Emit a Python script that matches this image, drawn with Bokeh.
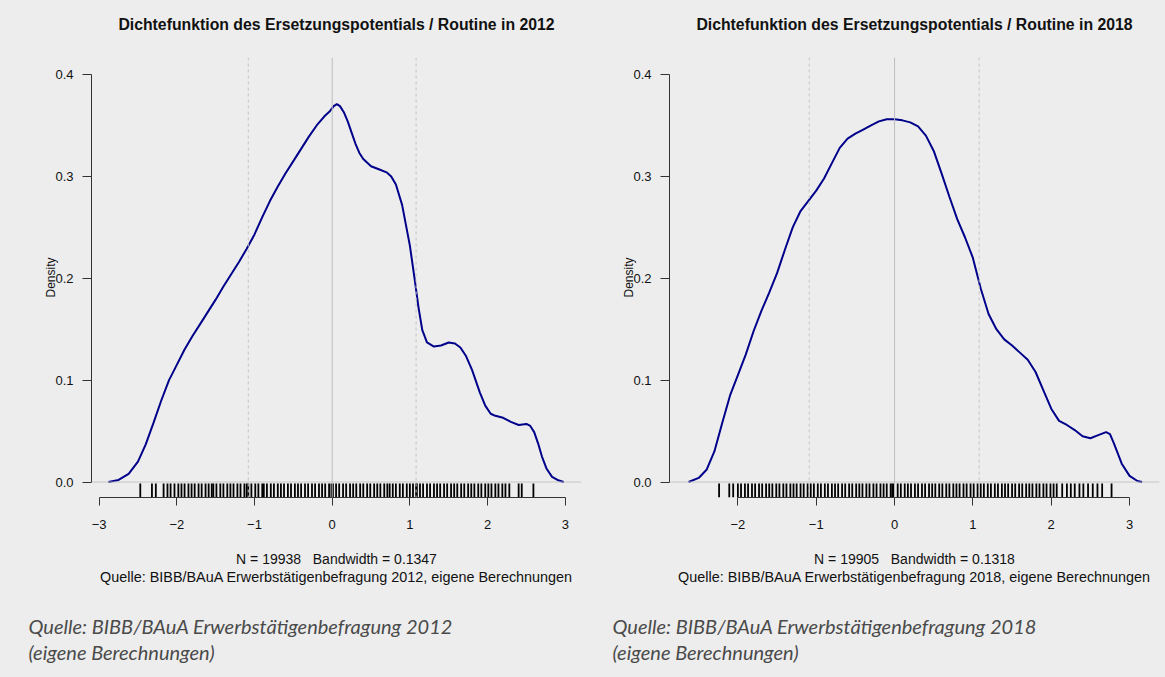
from bokeh.plotting import figure
from bokeh.models import Span, Title, FixedTicker, Range1d
from bokeh.layouts import row
from bokeh.embed import file_html
from bokeh.resources import INLINE

# ---------------- data ----------------
titles = ["Dichtefunktion des Ersetzungspotentials / Routine in 2012",
          "Dichtefunktion des Ersetzungspotentials / Routine in 2018"]
subs_n = ["N = 19938 \u00a0 Bandwidth = 0.1347", "N = 19905 \u00a0 Bandwidth = 0.1318"]
subs_src = ["Quelle: BIBB/BAuA Erwerbstätigenbefragung 2012, eigene Berechnungen",
            "Quelle: BIBB/BAuA Erwerbstätigenbefragung 2018, eigene Berechnungen"]
notes1 = ["Quelle: BIBB/BAuA Erwerbstätigenbefragung 2012",
          "Quelle: BIBB/BAuA Erwerbstätigenbefragung 2018"]
notes2 = ["(eigene Berechnungen)", "(eigene Berechnungen)"]
ylabel = "Density"

dens2012_x = [-2.88, -2.75, -2.62, -2.5, -2.4, -2.3, -2.2, -2.1, -2.0, -1.9, -1.8, -1.7,
              -1.6, -1.5, -1.4, -1.3, -1.2, -1.1, -1.0, -0.9, -0.8, -0.7, -0.6, -0.5,
              -0.4, -0.3, -0.2, -0.1, -0.03, 0.02, 0.06, 0.1, 0.15, 0.2, 0.25, 0.3, 0.35,
              0.4, 0.5, 0.6, 0.7, 0.76, 0.82, 0.9, 1.0, 1.06, 1.11, 1.16, 1.22, 1.31, 1.4,
              1.5, 1.58, 1.65, 1.72, 1.8, 1.9, 1.97, 2.04, 2.1, 2.2, 2.3, 2.4, 2.5, 2.55,
              2.6, 2.65, 2.7, 2.76, 2.83, 2.9, 2.98]
dens2012_y = [0.0, 0.002, 0.008, 0.02, 0.037, 0.058, 0.08, 0.1, 0.115, 0.13, 0.143, 0.155,
              0.167, 0.179, 0.192, 0.204, 0.216, 0.229, 0.243, 0.26, 0.276, 0.29, 0.303, 0.315,
              0.327, 0.339, 0.35, 0.359, 0.364, 0.369, 0.371, 0.369, 0.363, 0.354, 0.343, 0.332, 0.323,
              0.317, 0.31, 0.307, 0.304, 0.3, 0.292, 0.272, 0.232, 0.2, 0.172, 0.149, 0.137, 0.133, 0.134,
              0.137, 0.136, 0.132, 0.124, 0.11, 0.088, 0.075, 0.067, 0.065, 0.063, 0.059, 0.056, 0.057, 0.055,
              0.049, 0.038, 0.025, 0.013, 0.005, 0.002, 0.0]

dens2018_x = [-2.63, -2.5, -2.4, -2.3, -2.2, -2.1, -2.0, -1.9, -1.8, -1.7, -1.6, -1.5,
              -1.4, -1.3, -1.2, -1.1, -1.0, -0.9, -0.8, -0.7, -0.6, -0.5, -0.4, -0.3,
              -0.2, -0.1, 0.0, 0.1, 0.2, 0.3, 0.4, 0.5, 0.6, 0.7, 0.8, 0.9, 1.0, 1.1,
              1.2, 1.3, 1.4, 1.5, 1.6, 1.7, 1.8, 1.9, 2.0, 2.1, 2.2, 2.3, 2.4, 2.5,
              2.6, 2.7, 2.75, 2.8, 2.9, 3.0, 3.1, 3.16]
dens2018_y = [0.0, 0.004, 0.012, 0.03, 0.058, 0.085, 0.105, 0.125, 0.148, 0.168, 0.186, 0.205,
              0.228, 0.25, 0.266, 0.276, 0.286, 0.298, 0.313, 0.328, 0.337, 0.342, 0.346, 0.35,
              0.354, 0.356, 0.356, 0.355, 0.353, 0.349, 0.34, 0.325, 0.303, 0.28, 0.258, 0.24, 0.22, 0.19,
              0.165, 0.15, 0.14, 0.134, 0.127, 0.12, 0.108, 0.09, 0.072, 0.06, 0.056, 0.051, 0.045, 0.043,
              0.046, 0.049, 0.047, 0.038, 0.018, 0.006, 0.001, 0.0]

rug2012 = [-2.47, -2.32, -2.27, -2.17, -2.12, -2.08, -2.03, -1.98, -1.94, -1.90, -1.85, -1.81,
           -1.77, -1.72, -1.68, -1.63, -1.59, -1.55, -1.53, -1.49, -1.44, -1.40, -1.35, -1.31,
           -1.27, -1.22, -1.18, -1.13, -1.10, -1.08, -1.04, -0.99, -0.95, -0.90, -0.88, -0.84,
           -0.79, -0.75, -0.70, -0.66, -0.62, -0.57, -0.53, -0.48, -0.44, -0.40, -0.35, -0.31,
           -0.26, -0.22, -0.17, -0.13, -0.09, -0.04, -0.01, 0.01, 0.05, 0.09, 0.14, 0.18, 0.23,
           0.27, 0.31, 0.36, 0.40, 0.45, 0.49, 0.54, 0.58, 0.62, 0.67, 0.71, 0.74, 0.78, 0.82,
           0.87, 0.91, 0.96, 1.00, 1.04, 1.08, 1.09, 1.13, 1.17, 1.22, 1.26, 1.31, 1.35, 1.39,
           1.44, 1.48, 1.53, 1.57, 1.61, 1.66, 1.70, 1.75, 1.79, 1.83, 1.88, 1.92, 1.97, 2.01,
           2.05, 2.10, 2.14, 2.19, 2.23, 2.28, 2.40, 2.44, 2.59]
rug2018 = [-2.24, -2.11, -2.06, -2.00, -1.96, -1.91, -1.87, -1.82, -1.78, -1.73, -1.69, -1.64,
           -1.60, -1.56, -1.51, -1.47, -1.42, -1.38, -1.33, -1.29, -1.25, -1.20, -1.16, -1.11,
           -1.07, -1.03, -0.98, -0.94, -0.89, -0.85, -0.80, -0.76, -0.72, -0.67, -0.63, -0.58,
           -0.54, -0.49, -0.45, -0.41, -0.36, -0.32, -0.27, -0.23, -0.18, -0.14, -0.10, -0.05,
           -0.03, -0.01, 0.04, 0.08, 0.13, 0.17, 0.21, 0.26, 0.30, 0.35, 0.39, 0.44, 0.48, 0.52,
           0.57, 0.61, 0.66, 0.70, 0.75, 0.79, 0.83, 0.88, 0.92, 0.97, 1.01, 1.06, 1.10, 1.14,
           1.19, 1.23, 1.28, 1.32, 1.37, 1.41, 1.45, 1.50, 1.54, 1.59, 1.63, 1.68, 1.72, 1.76,
           1.81, 1.85, 1.90, 1.94, 1.99, 2.03, 2.07, 2.14, 2.20, 2.25, 2.30, 2.36, 2.41, 2.47,
           2.53, 2.59, 2.65, 2.77]

sd_lines2012 = [-1.08, 1.08]
sd_lines2018 = [-1.09, 1.08]

xticks2012 = [-3, -2, -1, 0, 1, 2, 3]
xticks2018 = [-2, -1, 0, 1, 2, 3]
yticks = [0.0, 0.1, 0.2, 0.3, 0.4]
ytick_labels = ["0.0", "0.1", "0.2", "0.3", "0.4"]

BG = "#ededed"
FONT = "Arial"
Y0, Y1 = -0.0152, 0.4167
RUG_TOP = -0.0015


def spacer(gap):
    return Title(text="\u00a0", text_font_size="1px", standoff=gap)


def txt(text, size, style="normal", align="center", font=FONT, color="#111111", offset=0):
    return Title(text=text, text_font=font, text_font_size=size, text_font_style=style,
                 align=align, text_color=color, standoff=0, offset=offset)


def panel(title, dx, dy, rug, sds, xr, xticks, sub_n, sub_src, note1, note2,
          left_b, frame_w, right_b, note_offset):
    p = figure(frame_width=frame_w, frame_height=440, x_range=Range1d(*xr),
               y_range=Range1d(Y0, Y1), output_backend="svg", toolbar_location=None,
               min_border_left=left_b, min_border_right=right_b, min_border_top=57,
               min_border_bottom=180, title=None)
    p.background_fill_color = BG
    p.border_fill_color = BG
    p.outline_line_color = None
    p.grid.visible = False

    # reference lines
    p.add_layout(Span(location=0, dimension="width", line_color="#bdbdbd", line_width=0.8))
    p.add_layout(Span(location=0, dimension="height", line_color="#bdbdbd", line_width=1))
    for s in sds:
        p.add_layout(Span(location=s, dimension="height", line_color="#c4c4c4",
                          line_width=1, line_dash="3 3"))

    p.line(dx, dy, line_color="#00008b", line_width=2)
    p.segment(x0=rug, y0=[Y0] * len(rug), x1=rug, y1=[RUG_TOP] * len(rug),
              line_color="black", line_width=1.8)

    xa = p.xaxis[0]
    xa.ticker = FixedTicker(ticks=xticks)
    xa.bounds = (xticks[0], xticks[-1])
    xa.major_label_overrides = {t: (("\u2212" + str(abs(t))) if t < 0 else str(t)) for t in xticks}
    xa.major_tick_out = 8
    xa.major_tick_in = 0
    xa.minor_tick_line_color = None
    xa.axis_line_color = "#333333"
    xa.major_tick_line_color = "#333333"
    xa.major_label_text_font = FONT
    xa.major_label_text_font_size = "13px"
    xa.major_label_text_color = "#111111"
    xa.major_label_standoff = 14

    ya = p.yaxis[0]
    ya.ticker = FixedTicker(ticks=yticks)
    ya.bounds = (yticks[0], yticks[-1])
    ya.major_label_overrides = {t: l for t, l in zip(yticks, ytick_labels)}
    ya.major_tick_out = 9
    ya.major_tick_in = 0
    ya.minor_tick_line_color = None
    ya.axis_line_color = "#333333"
    ya.major_tick_line_color = "#333333"
    ya.major_label_text_font = FONT
    ya.major_label_text_font_size = "13px"
    ya.major_label_text_color = "#111111"
    ya.major_label_standoff = 9
    ya.axis_label = ylabel
    ya.axis_label_text_font = FONT
    ya.axis_label_text_font_size = "12px"
    ya.axis_label_text_font_style = "normal"
    ya.axis_label_text_color = "#111111"
    ya.axis_label_standoff = -6

    # above: spacer next to the frame, then the main title
    p.add_layout(spacer(22), "above")
    p.add_layout(txt(title, "15.8px", style="bold"), "above")

    # below: axis, spacer, N line, source line, spacer, notes
    p.add_layout(spacer(14), "below")
    p.add_layout(txt(sub_n, "14px"), "below")
    p.add_layout(txt(sub_src, "14.4px"), "below")
    p.add_layout(spacer(24), "below")
    p.add_layout(txt(note1, "20px", style="italic", align="left", font="Lato",
                     color="#4a4a4a", offset=note_offset), "below")
    p.add_layout(txt(note2, "20px", style="italic", align="left", font="Lato",
                     color="#4a4a4a", offset=note_offset), "below")
    return p


p1 = panel(titles[0], dens2012_x, dens2012_y, rug2012, sd_lines2012, (-3.098, 3.209),
           xticks2012, subs_n[0], subs_src[0], notes1[0], notes2[0], 91, 490, 7, -63)
p2 = panel(titles[1], dens2018_x, dens2018_y, rug2018, sd_lines2018, (-2.873, 3.382),
           xticks2018, subs_n[1], subs_src[1], notes1[1], notes2[1], 81, 490, 6, -57)

layout = row(p1, p2)

tmpl = "{% block preamble %}<style>html, body { background-color: #ededed; }</style>{% endblock %}"
open("out.html", "w").write(file_html(layout, INLINE, template=tmpl))
